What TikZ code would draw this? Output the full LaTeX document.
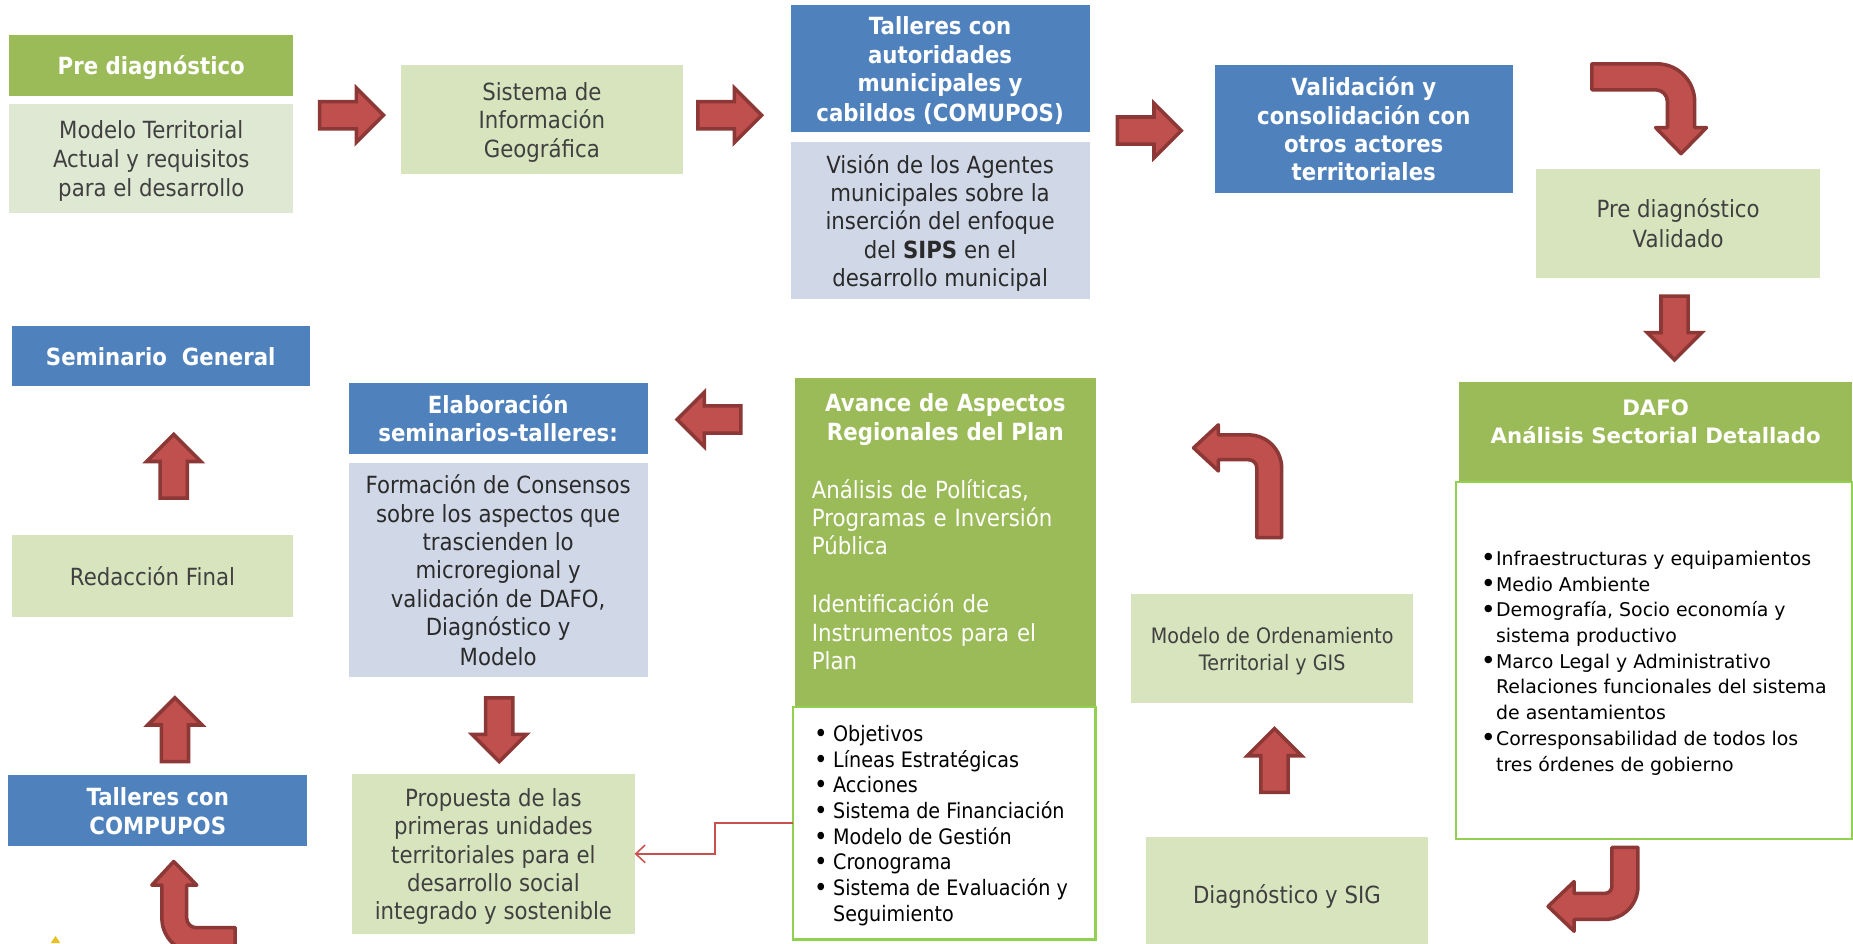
\documentclass[tikz,border=0pt]{standalone}
\usepackage{fontspec}
\setmainfont{DejaVu Sans}[FakeStretch=0.9]
\newfontfamily\verd{DejaVu Sans}
\usetikzlibrary{arrows.meta}
\definecolor{hdgreen}{HTML}{9BBB59}
\definecolor{ltgreen}{HTML}{D7E4BD}
\definecolor{ltgreenb}{HTML}{DFE8D3}
\definecolor{ltblue}{HTML}{D0D8E8}
\definecolor{hdblue}{HTML}{4F81BD}
\definecolor{brgreen}{HTML}{92D050}
\definecolor{arrfill}{HTML}{C0504D}
\definecolor{arrdraw}{HTML}{8C3836}
\definecolor{txtgray}{HTML}{404040}
\definecolor{txtdark}{HTML}{2A2A2A}
\definecolor{connred}{HTML}{C8504D}
\definecolor{smallyel}{HTML}{E8C020}
\newcommand\dbul{\makebox[13pt][l]{\raisebox{-1.2pt}{\scalebox{1.35}{\verd •}}}}
\newcommand\dind{\hspace*{13pt}}
\newcommand\abul{\makebox[16pt][l]{\raisebox{-0.8pt}{\scalebox{1.2}{•}}}}
\newcommand\aind{\hspace*{16pt}}
\newcommand\mystrutA{\rule[-4pt]{0pt}{24pt}}
\newcommand\mystrutB{\rule[-3.7pt]{0pt}{21.7pt}}
\tikzset{
  blk/.pic={\draw[blockarrow] (-27,-11.5) -- (4,-11.5) -- (4,-23) -- (27,0) -- (4,23) -- (4,11.5) -- (-27,11.5) -- cycle;}
}
\begin{document}
\begin{tikzpicture}[x=1pt,y=-1pt,
  box/.style={rectangle, inner sep=0pt, outer sep=0pt, anchor=north west, align=center, font=\fontsize{20}{24}\selectfont},
  greenh/.style={box, fill=hdgreen, text=white, font=\bfseries\fontsize{20}{24}\selectfont},
  blueh/.style={box, fill=hdblue, text=white, font=\bfseries\fontsize{20}{24}\selectfont},
  lgreen/.style={box, fill=ltgreen, text=txtgray},
  lblue/.style={box, fill=ltblue, text=txtdark},
  listbox/.style={box, fill=white, draw=brgreen, line width=2pt},
  plain/.style={inner sep=0pt, outer sep=0pt},
  blockarrow/.style={fill=arrfill, draw=arrdraw, line width=3pt},
  bentarrow/.style={fill=arrfill, draw=arrdraw, line width=3pt, line join=round},
  conn/.style={draw=connred, line width=1.3pt, -{Straight Barb[length=8pt,width=15pt]}},
]
\useasboundingbox (0,0) rectangle (1568,798);
\clip (0,0) rectangle (1568,798);
\fill[white] (0,0) rectangle (1568,798);

% top row
\node[greenh, minimum width=240pt, minimum height=51pt] (predh) at (8,30) {\mystrutA Pre diagnóstico\mystrutA};
\node[box, fill=ltgreenb, text=txtgray, minimum width=240pt, minimum height=92pt] (predb) at (8,88) {\mystrutA Modelo Territorial\\Actual y requisitos\\para el desarrollo\mystrutA};
\node[lgreen, minimum width=239pt, minimum height=92pt] (sig) at (339,55) {\mystrutA Sistema de\\Información\\Geográfica\mystrutA};
\node[blueh, minimum width=253pt, minimum height=108pt] (talh) at (669,4) {\mystrutA Talleres con\\autoridades\\municipales y\\cabildos (COMUPOS)\mystrutA};
\node[lblue, minimum width=253pt, minimum height=133pt] (talb) at (669,120) {\mystrutA Visión de los Agentes\\municipales sobre la\\inserción del enfoque\\del \textbf{SIPS} en el\\desarrollo municipal\mystrutA};
\node[blueh, minimum width=252pt, minimum height=108pt] (val) at (1028,55) {\mystrutA Validación y\\consolidación con\\otros actores\\territoriales\mystrutA};
\node[lgreen, minimum width=240pt, minimum height=92pt] (pdv) at (1300,143) {\mystrutA Pre diagnóstico\\Validado\mystrutA};

% DAFO
\node[box, fill=hdgreen, minimum width=332pt, minimum height=85pt] (dafoh) at (1235,323) {};
\node[plain, text=white, align=center, font=\verd\bfseries\fontsize{18}{24}\selectfont] (dafohtxt) at (1401,357) {DAFO\\Análisis Sectorial Detallado};
\node[listbox, minimum width=335pt, minimum height=302pt] (dafob) at (1232,408) {};
\node[plain, anchor=west, align=left, text=black, font=\verd\fontsize{16}{21.75}\selectfont] (dafolist) at (1253,561) {\dbul Infraestructuras y equipamientos\\\dbul Medio Ambiente\\\dbul Demografía, Socio economía y\\\dind sistema productivo\\\dbul Marco Legal y Administrativo\\\dind Relaciones funcionales del sistema\\\dind de asentamientos\\\dbul Corresponsabilidad de todos los\\\dind tres órdenes de gobierno};

% Avance
\node[box, fill=hdgreen, minimum width=254pt, minimum height=278pt] (avance) at (673,320) {};
\node[plain, text=white, text width=226pt, align=left, font=\fontsize{20}{24}\selectfont] (avtxt) at (800,450) {{\centering\bfseries Avance de Aspectos\\Regionales del Plan\par}\vspace{25pt}Análisis de Políticas,\\Programas e Inversión\\Pública\\[25pt]Identificación de\\Instrumentos para el\\Plan};
\node[listbox, minimum width=256pt, minimum height=197pt] (avlist) at (671,598) {};
\node[plain, anchor=west, align=left, text=black, font=\fontsize{18}{21.7}\selectfont] (avlisttxt) at (689,698.5) {\abul Objetivos\\\abul Líneas Estratégicas\\\abul Acciones\\\abul Sistema de Financiación\\\abul Modelo de Gestión\\\abul Cronograma\\\abul Sistema de Evaluación y\\\aind Seguimiento};

% right-middle
\node[lgreen, minimum width=239pt, minimum height=92pt, font=\fontsize{18}{21}\selectfont] (mod) at (957,503) {\mystrutB Modelo de Ordenamiento\\Territorial y GIS\mystrutB};
\node[lgreen, minimum width=238pt, minimum height=98pt] (diag) at (970,708) {\mystrutA Diagnóstico y SIG\mystrutA};

% Elaboración
\node[blueh, minimum width=253pt, minimum height=60pt] (elabh) at (295,324) {\mystrutA Elaboración\\seminarios-talleres:\mystrutA};
\node[lblue, minimum width=253pt, minimum height=181pt] (elabb) at (295,392) {\mystrutA Formación de Consensos\\sobre los aspectos que\\trascienden lo\\microregional y\\validación de DAFO,\\Diagnóstico y\\Modelo\mystrutA};
\node[lgreen, minimum width=239pt, minimum height=135pt] (prop) at (298,655) {\mystrutA Propuesta de las\\primeras unidades\\territoriales para el\\desarrollo social\\integrado y sostenible\mystrutA};

% left column
\node[blueh, minimum width=252pt, minimum height=51pt] (sem) at (10,276) {\mystrutA Seminario\ \ General\mystrutA};
\node[lgreen, minimum width=238pt, minimum height=69pt] (red) at (10,453) {\mystrutA Redacción Final\mystrutA};
\node[blueh, minimum width=253pt, minimum height=60pt] (comp) at (7,656) {\mystrutA Talleres con\\COMPUPOS\mystrutA};

% straight block arrows
\pic at (297.5,97.5) {blk};
\pic at (617.5,97.5) {blk};
\pic at (972.5,110.5) {blk};
\pic[rotate=-90] at (1417,277.5) {blk};
\pic[rotate=90] at (1078.5,643.5) {blk};
\pic[rotate=180] at (600,355) {blk};
\pic[rotate=-90] at (422.5,617.5) {blk};
\pic[rotate=90] at (148,617.5) {blk};
\pic[rotate=90] at (147,394.5) {blk};

% bent arrows
\draw[bentarrow] (1347,54) -- (1402,54) .. controls (1419.7,54) and (1434,68.3) .. (1434,86) -- (1434,108) -- (1444,108) -- (1422.5,130) -- (1401,108) -- (1411,108) -- (1411,86) .. controls (1411,80.5) and (1406.5,76) .. (1401,76) -- (1347,76) -- cycle;
\draw[bentarrow] (1364,717) -- (1386,717) -- (1386,750) .. controls (1386,765.5) and (1373.5,778) .. (1358,778) -- (1332,778) -- (1332,788) -- (1310,767) -- (1332,746) -- (1332,756) -- (1358,756) .. controls (1361.3,756) and (1364,753.3) .. (1364,750) -- cycle;
\draw[bentarrow] (1063.5,455) -- (1084.5,455) -- (1084.5,396) .. controls (1084.5,380.5) and (1072,368) .. (1056.5,368) -- (1031,368) -- (1031,359.5) -- (1010,379) -- (1031,398.5) -- (1031,389) -- (1056.5,389) .. controls (1060.4,389) and (1063.5,392.1) .. (1063.5,396) -- cycle;
\draw[bentarrow] (147,729) -- (166.5,749) -- (158,749) -- (158,777) .. controls (158,781.4) and (161.6,785) .. (166,785) -- (199,785) -- (199,806) -- (166,806) .. controls (150,806) and (137,793) .. (137,777) -- (137,749) -- (128.5,749) -- cycle;

% thin connector
\coordinate (bend) at (605,709);
\draw[conn] (avlist.west) -| (bend) |- (prop.east);

% small mark bottom-left
\fill[smallyel] (43,798) -- (47,792) -- (51,798) -- cycle;
\end{tikzpicture}
\end{document}
